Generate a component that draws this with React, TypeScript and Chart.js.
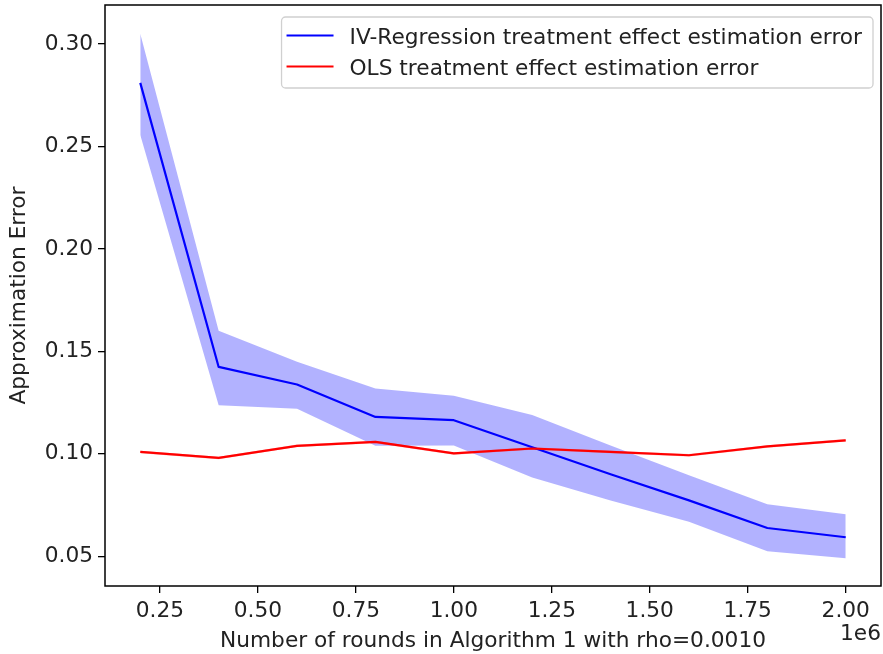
import React, { useEffect, useRef } from "react";
import { Chart, registerables } from "chart.js";

Chart.register(...registerables);

// ---- data ----
const rounds = [200000, 400000, 600000, 800000, 1000000, 1200000, 1400000, 1600000, 1800000, 2000000];
const ivMean = [0.281, 0.1424, 0.1338, 0.118, 0.1164, 0.1032, 0.0900, 0.0773, 0.0638, 0.0593];
const ivUpper = [0.305, 0.160, 0.1449, 0.1319, 0.1283, 0.119, 0.1040, 0.0895, 0.0754, 0.0705];
const ivLower = [0.2556, 0.1237, 0.122, 0.1039, 0.104, 0.0885, 0.0772, 0.0668, 0.0524, 0.049];
const olsMean = [0.1009, 0.0980, 0.1039, 0.1058, 0.1002, 0.1026, 0.1009, 0.0993, 0.1036, 0.1066];
const olsUpper = [0.1015, 0.0986, 0.1045, 0.1064, 0.1008, 0.1032, 0.1015, 0.0999, 0.1042, 0.1072];
const olsLower = [0.1003, 0.0974, 0.1033, 0.1052, 0.0996, 0.1020, 0.1003, 0.0987, 0.1030, 0.1060];

const xTicks = [250000, 500000, 750000, 1000000, 1250000, 1500000, 1750000, 2000000];
const yTicks = [0.05, 0.1, 0.15, 0.2, 0.25, 0.3];
const seriesLabels = [
  "IV-Regression treatment effect estimation error",
  "OLS treatment effect estimation error",
];
const seriesColors = ["#0000ff", "#ff0000"];
const xTitle = "Number of rounds in Algorithm 1 with rho=0.0010";
const yTitle = "Approximation Error";
const offsetText = "1e6";

const FAMILY = "'DejaVu Sans', sans-serif";
const FS = 21.7;
const TXT = "#222222";

const pts = (ys: number[]) => rounds.map((x, i) => ({ x, y: ys[i] }));

const decorPlugin = {
  id: "decor",
  afterDraw(chart: any) {
    const { ctx, chartArea } = chart;
    const { left, right, top, bottom } = chartArea;
    ctx.save();
    // spines
    ctx.strokeStyle = "#000";
    ctx.lineWidth = 1.5;
    ctx.strokeRect(left, top, right - left, bottom - top);

    // legend
    ctx.font = `${FS}px ${FAMILY}`;
    const tw = Math.max(...seriesLabels.map((s) => ctx.measureText(s).width));
    const padL = 5, handle = 47, gap = 16, padR = 11;
    const boxW = padL + handle + gap + tw + padR;
    const boxH = 71;
    const bx = right - 8 - boxW;
    const by = top + 12;
    ctx.beginPath();
    const r = 4;
    ctx.moveTo(bx + r, by);
    ctx.lineTo(bx + boxW - r, by);
    ctx.arcTo(bx + boxW, by, bx + boxW, by + r, r);
    ctx.lineTo(bx + boxW, by + boxH - r);
    ctx.arcTo(bx + boxW, by + boxH, bx + boxW - r, by + boxH, r);
    ctx.lineTo(bx + r, by + boxH);
    ctx.arcTo(bx, by + boxH, bx, by + boxH - r, r);
    ctx.lineTo(bx, by + r);
    ctx.arcTo(bx, by, bx + r, by, r);
    ctx.closePath();
    ctx.fillStyle = "rgba(255,255,255,0.8)";
    ctx.fill();
    ctx.strokeStyle = "#d0d0d0";
    ctx.lineWidth = 1.3;
    ctx.stroke();

    const rows = [by + 18.5, by + 49.5];
    seriesLabels.forEach((lab, i) => {
      const cy = rows[i];
      ctx.strokeStyle = seriesColors[i];
      ctx.lineWidth = 2.2;
      ctx.beginPath();
      ctx.moveTo(bx + padL, cy);
      ctx.lineTo(bx + padL + handle, cy);
      ctx.stroke();
      ctx.fillStyle = TXT;
      ctx.textAlign = "left";
      ctx.textBaseline = "alphabetic";
      ctx.fillText(lab, bx + padL + handle + gap, cy + 8.5);
    });

    // offset text
    ctx.textAlign = "right";
    ctx.textBaseline = "middle";
    ctx.fillStyle = TXT;
    ctx.fillText(offsetText, right, 634);
    ctx.restore();
  },
};

export default function App() {
  const ref = useRef<HTMLCanvasElement | null>(null);
  useEffect(() => {
    document.body.style.margin = "0";
    const canvas = ref.current!;
    const chart = new Chart(canvas, {
      type: "line",
      data: {
        datasets: [
          {
            label: "iv-upper",
            data: pts(ivUpper),
            borderWidth: 0,
            borderColor: "rgba(0,0,0,0)",
            backgroundColor: "rgba(0,0,255,0.3)",
            pointRadius: 0,
            fill: "+1",
            order: 3,
          },
          {
            label: "iv-lower",
            data: pts(ivLower),
            borderWidth: 0,
            borderColor: "rgba(0,0,0,0)",
            pointRadius: 0,
            fill: false,
            order: 3,
          },
          {
            label: "ols-upper",
            data: pts(olsUpper),
            borderWidth: 0,
            borderColor: "rgba(0,0,0,0)",
            backgroundColor: "rgba(255,0,0,0.3)",
            pointRadius: 0,
            fill: "+1",
            order: 2,
          },
          {
            label: "ols-lower",
            data: pts(olsLower),
            borderWidth: 0,
            borderColor: "rgba(0,0,0,0)",
            pointRadius: 0,
            fill: false,
            order: 2,
          },
          {
            label: seriesLabels[0],
            data: pts(ivMean),
            borderColor: seriesColors[0],
            borderWidth: 2.2,
            pointRadius: 0,
            fill: false,
            tension: 0,
            borderJoinStyle: "round",
            order: 1,
          },
          {
            label: seriesLabels[1],
            data: pts(olsMean),
            borderColor: seriesColors[1],
            borderWidth: 2.2,
            pointRadius: 0,
            fill: false,
            tension: 0,
            borderJoinStyle: "round",
            order: 0,
          },
        ],
      },
      options: {
        animation: false,
        responsive: false,
        layout: { padding: { top: 5, right: 2, left: 0, bottom: 0 } },
        plugins: {
          legend: { display: false },
          tooltip: { enabled: false },
        },
        scales: {
          x: {
            type: "linear",
            min: 110000,
            max: 2090000,
            afterBuildTicks: (s: any) => {
              s.ticks = xTicks.map((v) => ({ value: v }));
            },
            afterFit: (s: any) => {
              s.height = 68;
              s.paddingLeft = 0;
              s.paddingRight = 0;
            },
            ticks: {
              callback: (v: any) => (Number(v) / 1e6).toFixed(2),
              font: { family: FAMILY, size: FS },
              color: TXT,
              padding: 5,
              maxRotation: 0,
              autoSkip: false,
            },
            grid: {
              display: true,
              drawOnChartArea: false,
              drawTicks: true,
              tickLength: 7,
              color: "#000",
              lineWidth: 1.3,
            },
            border: { display: false },
            title: {
              display: true,
              text: xTitle,
              color: TXT,
              font: { family: FAMILY, size: FS },
              padding: { top: 0, bottom: 0 },
            },
          },
          y: {
            type: "linear",
            min: 0.0355,
            max: 0.319,
            afterBuildTicks: (s: any) => {
              s.ticks = yTicks.map((v) => ({ value: v }));
            },
            afterFit: (s: any) => {
              s.width = 105;
              s.paddingTop = 0;
              s.paddingBottom = 0;
            },
            ticks: {
              callback: (v: any) => Number(v).toFixed(2),
              font: { family: FAMILY, size: FS },
              color: TXT,
              padding: 5,
              autoSkip: false,
            },
            grid: {
              display: true,
              drawOnChartArea: false,
              drawTicks: true,
              tickLength: 7,
              color: "#000",
              lineWidth: 1.3,
            },
            border: { display: false },
            title: {
              display: true,
              text: yTitle,
              color: TXT,
              font: { family: FAMILY, size: FS },
              padding: { top: 6, bottom: 0 },
            },
          },
        },
      },
      plugins: [decorPlugin],
    } as any);
    return () => chart.destroy();
  }, []);
  return (
    <canvas
      ref={ref}
      width={883}
      height={654}
      style={{ display: "block", width: 883, height: 654 }}
    />
  );
}
